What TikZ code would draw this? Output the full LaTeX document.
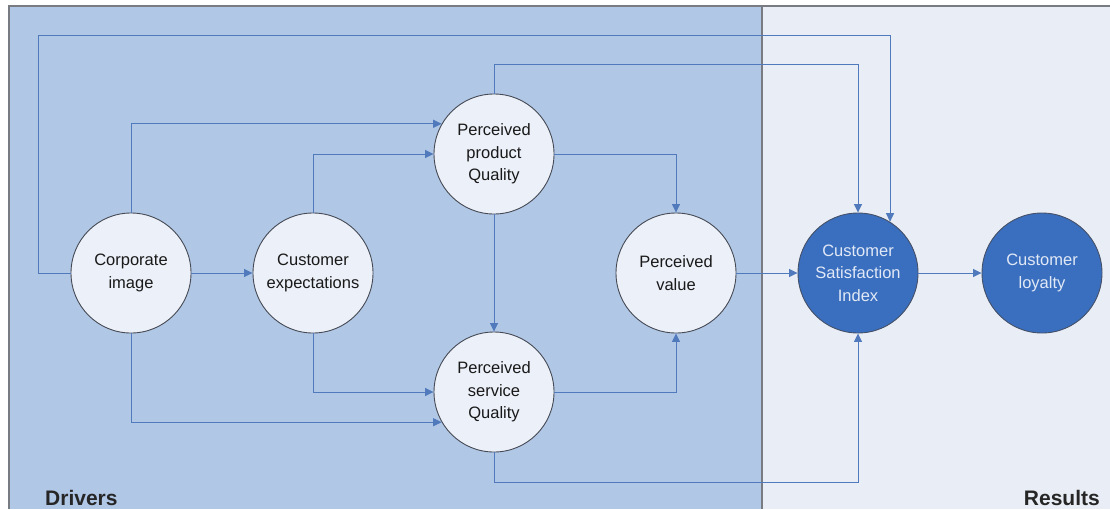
\documentclass[tikz,border=0pt]{standalone}
\usepackage{fontspec}
\setmainfont{Liberation Sans}
\usetikzlibrary{arrows.meta}
\definecolor{drvbg}{RGB}{176,199,230}
\definecolor{resbg}{RGB}{233,238,246}
\definecolor{lightc}{RGB}{236,240,248}
\definecolor{darkc}{RGB}{58,110,190}
\definecolor{connc}{RGB}{80,122,188}
\definecolor{framec}{RGB}{120,124,130}
\definecolor{outc}{RGB}{70,74,84}
\definecolor{darktxt}{RGB}{225,233,246}
\begin{document}
\begin{tikzpicture}[x=1pt,y=-1pt,
  light/.style={circle,draw=outc,line width=0.9pt,fill=lightc,minimum size=120pt,inner sep=0pt,align=center,
    font=\fontsize{16.5}{22.5}\selectfont,text=black!90},
  dark/.style={circle,draw=outc!80!darkc,line width=0.9pt,fill=darkc,minimum size=120pt,inner sep=0pt,align=center,
    font=\fontsize{16.5}{22.5}\selectfont,text=darktxt},
  conn/.style={draw=connc,line width=1pt,-{Triangle[length=8.5pt,width=8pt]}},
  lbl/.style={font=\fontsize{21}{24}\selectfont\bfseries,text=black!85,inner sep=0pt}]
\useasboundingbox (0,0) rectangle (1110,509);
\fill[white] (0,0) rectangle (1110,509);
\fill[drvbg] (9,6) rectangle (762,509);
\fill[resbg] (762,6) rectangle (1110,509);
\draw[framec,line width=1.5pt] (9,509) -- (9,6) -- (1110,6);
\draw[framec,line width=1.5pt] (762,6) -- (762,509);

\node[light] (ci) at (131,273) {Corporate\\image};
\node[light] (ce) at (313,273) {Customer\\expectations};
\node[light] (pq) at (494,154) {Perceived\\product\\Quality};
\node[light] (ps) at (494,392) {Perceived\\service\\Quality};
\node[light] (pv) at (676,273) {Perceived\\value};
\node[dark] (csi) at (858,273) {Customer\\Satisfaction\\Index};
\node[dark] (cl) at (1042,273) {Customer\\loyalty};

\coordinate (lA) at (38,35);
\draw[conn] (ci.west) -| (lA) -| (csi.58);
\draw[conn] (pq.north) -- ++(0,-29) -| (csi.north);
\draw[conn] (ci.north) |- (pq.150);
\draw[conn] (ce.north) |- (pq.west);
\draw[conn] (ci.east) -- (ce.west);
\draw[conn] (pq.south) -- (ps.north);
\draw[conn] (pq.east) -| (pv.north);
\draw[conn] (ce.south) |- (ps.west);
\draw[conn] (ci.south) |- (ps.210);
\draw[conn] (ps.east) -| (pv.south);
\draw[conn] (ps.south) -- ++(0,30) -| (csi.south);
\draw[conn] (pv.east) -- (csi.west);
\draw[conn] (csi.east) -- (cl.west);

\node[lbl,anchor=base west] (drv) at (45,505) {Drivers};
\node[lbl,anchor=base east] (res) at (1100,505) {Results};
\end{tikzpicture}
\end{document}
